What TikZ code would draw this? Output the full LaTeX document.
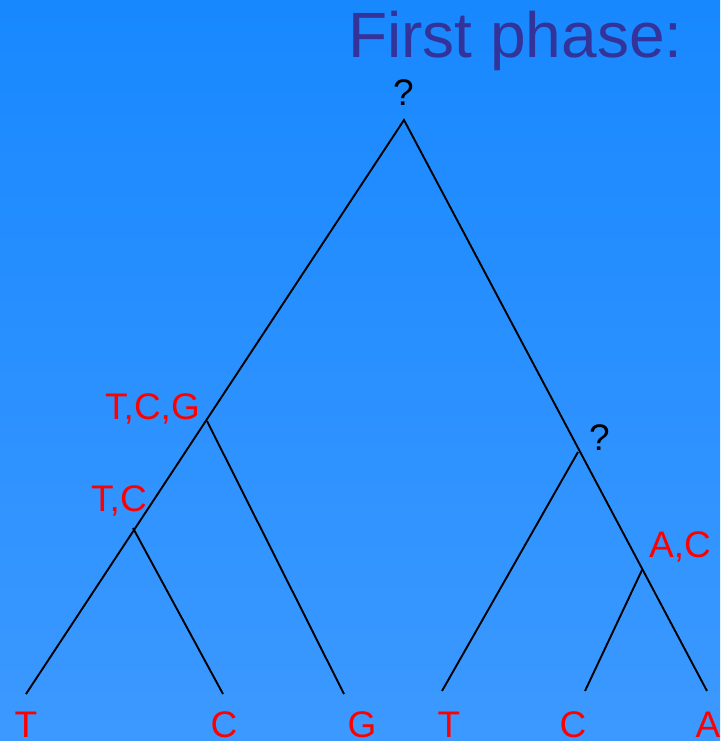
\documentclass[tikz,border=0pt]{standalone}
\usepackage{fontspec}
\setmainfont{Liberation Sans}
\definecolor{bgtop}{HTML}{1888FF}
\definecolor{bgbot}{HTML}{3C99FF}
\definecolor{titleblue}{HTML}{333399}
\begin{document}
\begin{tikzpicture}[x=1pt,y=1pt,
  branch/.style={draw=black,line width=1.9pt},
  redlab/.style={text=red,inner sep=0pt,font=\fontsize{37}{37}\selectfont},
  blacklab/.style={text=black,inner sep=0pt,font=\fontsize{37}{37}\selectfont},
  leaflab/.style={text=red,inner sep=0pt,anchor=base,font=\fontsize{37}{37}\selectfont}]
\useasboundingbox (0,-741) rectangle (720,0);
\shade[top color=bgtop,bottom color=bgbot] (0,-741) rectangle (720,0);
\node[text=titleblue,inner sep=0pt,anchor=base west,font=\fontsize{64}{64}\selectfont] (title) at (348,-58) {First phase:};
% tree vertices
\coordinate (root) at (404,-120);
\coordinate (tcg) at (207,-421);
\coordinate (tc) at (133,-528);
\coordinate (q2) at (578,-452);
\coordinate (ac) at (642,-570);
\coordinate (l1) at (26,-694);
\coordinate (l2) at (223,-694);
\coordinate (l3) at (344,-694);
\coordinate (l4) at (442,-691);
\coordinate (l5) at (585,-691);
\coordinate (l6) at (707,-691);
% branches
\draw[branch] (l1) -- (root) -- (l6);
\draw[branch] (tcg) -- (l3);
\draw[branch] (tc) -- (l2);
\draw[branch] (q2) -- (l4);
\draw[branch] (ac) -- (l5);
% internal labels
\node[blacklab,anchor=base west] (qroot) at (393,-106) {?};
\node[redlab,anchor=base west] (ltcg) at (105,-419) {T,C,G};
\node[redlab,anchor=base west] (ltc) at (91,-511) {T,C};
\node[blacklab,anchor=base west] (qright) at (589,-450) {?};
\node[redlab,anchor=base west] (lac) at (649,-557) {A,C};
% leaf labels
\node[leaflab] (t1) at (26,-737) {T};
\node[leaflab] (t2) at (224,-737) {C};
\node[leaflab] (t3) at (362,-737) {G};
\node[leaflab] (t4) at (449,-737) {T};
\node[leaflab] (t5) at (573,-737) {C};
\node[leaflab] (t6) at (708,-737) {A};
\end{tikzpicture}
\end{document}
